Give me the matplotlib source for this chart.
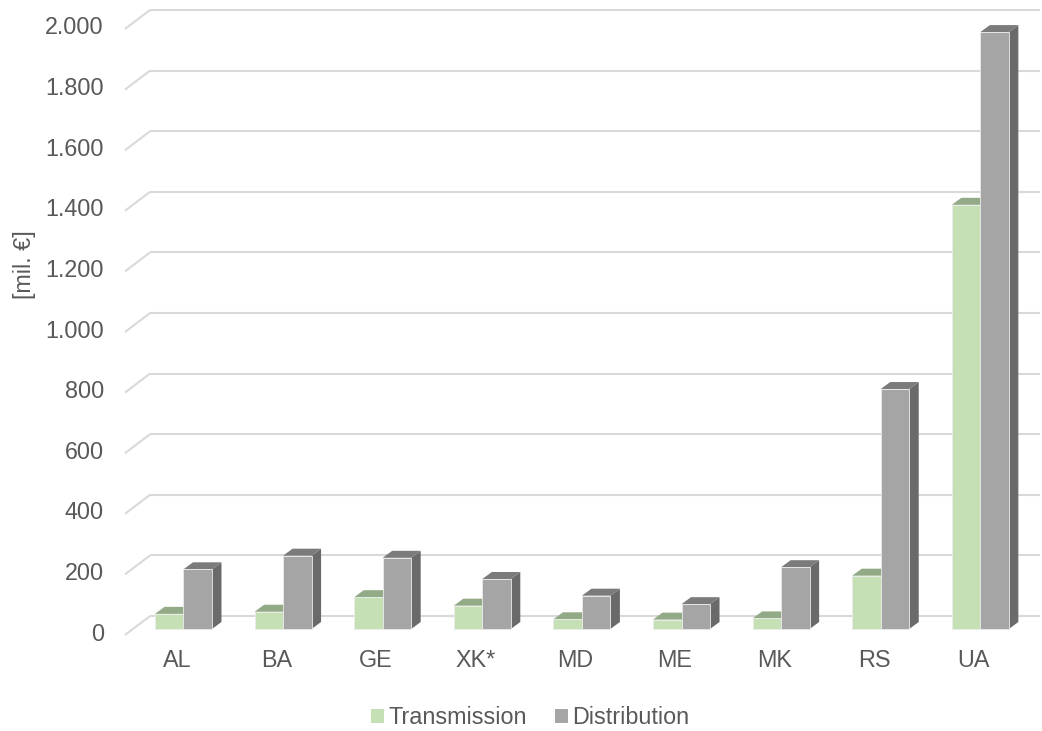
import matplotlib.pyplot as plt
from matplotlib.patches import Polygon, Rectangle, Patch

# Network values per country [mil. EUR]
countries = ['AL', 'BA', 'GE', 'XK*', 'MD', 'ME', 'MK', 'RS', 'UA']
transmission = [50, 57, 105, 77, 32, 31, 35, 176, 1400]
distribution = [197, 242, 235, 165, 110, 82, 204, 792, 1970]
yticks = [0, 200, 400, 600, 800, 1000, 1200, 1400, 1600, 1800, 2000]

GREEN = ('#c5e0b4', '#93aa86', '#7f9a70')
GRAY = ('#a5a5a5', '#7b7b7b', '#6a6a6a')
GRID = '#d9d9d9'
TXT = '#595959'
FS = 16.8

plt.rcParams['font.family'] = ['Liberation Sans', 'DejaVu Sans']

W, H = 1042, 731
fig = plt.figure(figsize=(W / 100, H / 100), dpi=100)
ax = fig.add_axes([0, 0, 1, 1])
XMIN, XMAX = -1.842, 8.619
YMIN, YMAX = -336.6, 2075.9
ax.set_xlim(XMIN, XMAX)
ax.set_ylim(YMIN, YMAX)
ax.axis('off')

PX = W / (XMAX - XMIN)   # pixels per category
PY = H / (YMAX - YMIN)   # pixels per value unit


def off(dx, dy):
    # pixel offset -> data offset (dy up)
    return dx / PX, dy / PY


bw = 28.5 / PX
bdx, bdy = off(9.5, 7)          # bar depth
gdx, gdy = off(17, 13)          # back wall relative to bar fronts
fdx, fdy = off(-8, -6)          # front floor edge relative to bar fronts
wall_right = XMIN + 1040 / PX

# slanted gridlines: floor edge up to back wall, then across the wall
for v in yticks:
    ax.plot([-0.587, -0.587 + (gdx - fdx)], [v + fdy, v + gdy],
            color=GRID, lw=1.5, zorder=1, solid_capstyle='butt')
    ax.plot([-0.587 + (gdx - fdx), wall_right], [v + gdy, v + gdy],
            color=GRID, lw=1.5, zorder=1, solid_capstyle='butt')
    ax.text(XMIN + 104 / PX, v + fdy + off(0, 1)[1], f'{v:,}'.replace(',', '.'),
            ha='right', va='center', fontsize=FS, color=TXT)


def bar3d(x0, h, cols, z):
    front, top, side = cols
    ax.add_patch(Polygon([(x0 + bw, 0), (x0 + bw + bdx, bdy),
                          (x0 + bw + bdx, h + bdy), (x0 + bw, h)],
                         closed=True, fc=side, ec='none', zorder=z))
    ax.add_patch(Polygon([(x0, h), (x0 + bw, h), (x0 + bw + bdx, h + bdy),
                          (x0 + bdx, h + bdy)],
                         closed=True, fc=top, ec='none', zorder=z))
    ax.add_patch(Rectangle((x0, 0), bw, h, fc=front, ec='#ebebeb',
                           lw=0.6, zorder=z))


for i, (t, d) in enumerate(zip(transmission, distribution)):
    bar3d(i - bw, t, GREEN, 3 + 2 * i)
    bar3d(i, d, GRAY, 4 + 2 * i)
    ax.text(i - 6.5 / PX, -31 / PY, countries[i], ha='center', va='center',
            fontsize=FS, color=TXT)

ax.text(XMIN + 25 / PX, (629 - 265) / PY, '[mil. €]', rotation=90,
        ha='center', va='center', fontsize=FS, color=TXT)

handles = [Patch(fc=GREEN[0], ec='none', label='Transmission'),
           Patch(fc=GRAY[0], ec='none', label='Distribution')]
fig.legend(handles=handles, loc='center', bbox_to_anchor=(530 / W, 13 / H),
           ncol=2, frameon=False, fontsize=FS, labelcolor=TXT,
           handlelength=0.55, handleheight=0.55, handletextpad=0.2,
           columnspacing=1.2)

fig.savefig('out.png', dpi=100)
